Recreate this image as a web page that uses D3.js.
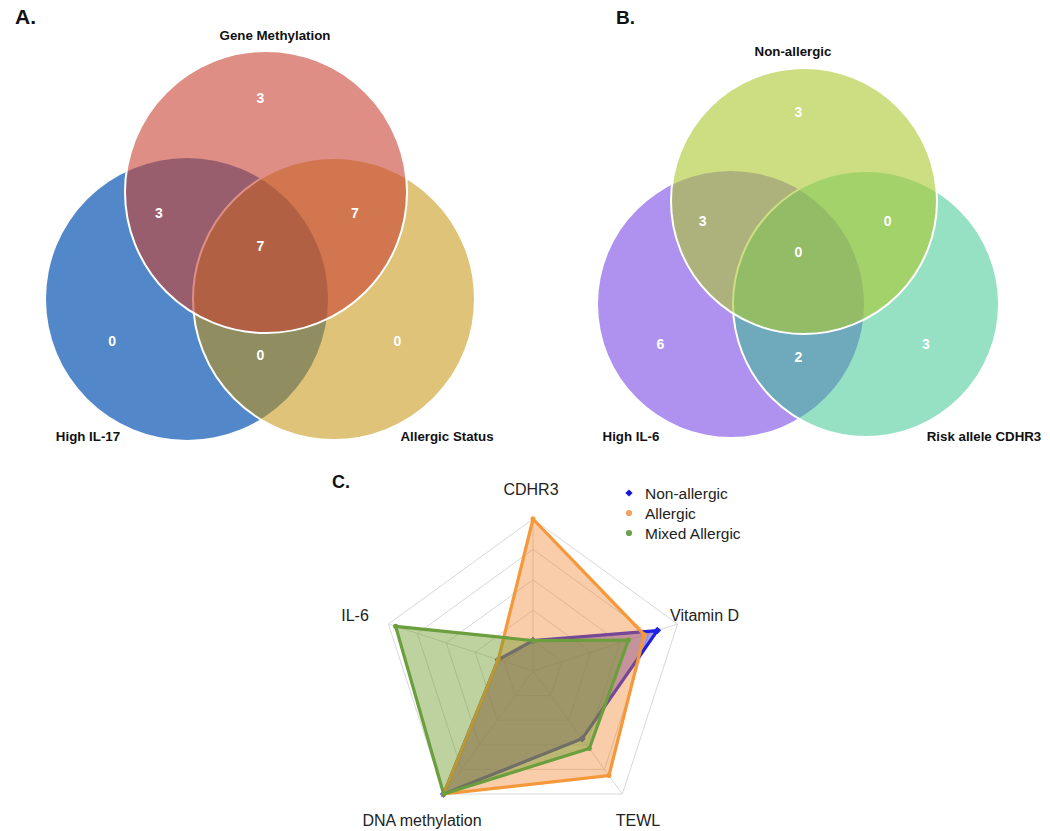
<!DOCTYPE html>
<html>
<head>
<meta charset="utf-8">
<script src="https://cdn.jsdelivr.net/npm/d3@7"></script>
<style>
  html, body { margin: 0; padding: 0; background: #fff; }
  svg { display: block; font-family: Arial, "Liberation Sans", sans-serif; }
</style>
</head>
<body>
<svg id="chart" width="1050" height="831"></svg>
<script>
// ---------- DATA ----------
// Venn A: sets (top, left, right)
const vennASets = ["Gene Methylation", "High IL-17", "Allergic Status"];
// region counts: top only, top&left, all three, top&right, left only, left&right, right only
const vennACounts = [3, 3, 7, 7, 0, 0, 0];

// Venn B: sets (top, left, right)
const vennBSets = ["Non-allergic", "High IL-6", "Risk allele CDHR3"];
const vennBCounts = [3, 3, 0, 0, 6, 2, 3];

// Radar C
const radarAxes = ["CDHR3", "Vitamin D", "TEWL", "DNA methylation", "IL-6"];
const radarSeries = ["Non-allergic", "Allergic", "Mixed Allergic"];
const nonAllergic = [0.20, 0.86, 0.55, 1.00, 0.24];
const allergic = [1.00, 0.77, 0.85, 1.00, 0.24];
const mixedAllergic = [0.20, 0.66, 0.63, 1.00, 0.95];
const radarLevels = [0.2, 0.4, 0.6, 0.8, 1.0];

// ---------- DRAW ----------
const svg = d3.select("#chart");

function drawVenn(cfg) {
  const g = svg.append("g");
  const r = cfg.r;
  // draw order: left (opaque), right (alpha), top (alpha)
  const circles = [
    { c: cfg.left, fill: cfg.colors[1], op: 1, stroke: "none" },
    { c: cfg.right, fill: cfg.colors[2], op: cfg.alphaRight, stroke: "#fff" },
    { c: cfg.top, fill: cfg.colors[0], op: cfg.alphaTop, stroke: "#fff" }
  ];
  g.selectAll("circle.fillc").data(circles).join("circle")
    .attr("class", "fillc")
    .attr("cx", d => d.c[0]).attr("cy", d => d.c[1]).attr("r", r)
    .attr("fill", d => d.fill).attr("fill-opacity", d => d.op)
    .attr("stroke", d => d.stroke).attr("stroke-width", 2);

  // region labels (counts)
  const T = cfg.top, L = cfg.left, R = cfg.right;
  const cx = (L[0] + R[0]) / 2;
  const regionPos = [
    [cx, T[1] - r * 0.67],                 // top only
    [cx - r * 0.72, T[1] + r * 0.15],      // top & left
    [cx, T[1] + r * 0.38],                 // all
    [cx + r * 0.67, T[1] + r * 0.15],      // top & right
    [L[0] - r * 0.53, L[1] + r * 0.30],    // left only
    [cx, L[1] + r * 0.40],                 // left & right
    [R[0] + r * 0.45, R[1] + r * 0.30]     // right only
  ];
  g.selectAll("text.cnt").data(cfg.counts).join("text")
    .attr("class", "cnt")
    .attr("x", (d, i) => regionPos[i][0])
    .attr("y", (d, i) => regionPos[i][1])
    .attr("text-anchor", "middle").attr("dominant-baseline", "central")
    .attr("fill", "#fff").attr("font-weight", "bold").attr("font-size", 14)
    .text(d => d);

  // set labels
  g.selectAll("text.setl").data(cfg.sets).join("text")
    .attr("class", "setl")
    .attr("x", (d, i) => cfg.labelPos[i][0])
    .attr("y", (d, i) => cfg.labelPos[i][1])
    .attr("text-anchor", "middle")
    .attr("fill", "#111").attr("font-weight", "bold").attr("font-size", 13.3)
    .text(d => d);
}

drawVenn({
  sets: vennASets, counts: vennACounts, r: 141,
  top: [266, 192], left: [187, 299], right: [334, 299],
  colors: ["rgb(200,67,50)", "rgb(82,136,201)", "rgb(195,145,9)"],
  alphaTop: 0.6, alphaRight: 0.55,
  labelPos: [[275, 40], [88, 441], [447, 441]]
});

drawVenn({
  sets: vennBSets, counts: vennBCounts, r: 133,
  top: [804, 201], left: [731, 304], right: [866, 304],
  colors: ["rgb(172,200,47)", "rgb(175,145,240)", "rgb(45,195,135)"],
  alphaTop: 0.6, alphaRight: 0.5,
  labelPos: [[793, 56], [631, 441], [984, 441]]
});

// panel letters
svg.append("text").attr("x", 15).attr("y", 24).attr("font-weight", "bold")
  .attr("font-size", 21).attr("fill", "#111").text("A.");
svg.append("text").attr("x", 616).attr("y", 24).attr("font-weight", "bold")
  .attr("font-size", 19).attr("fill", "#111").text("B.");
svg.append("text").attr("x", 332).attr("y", 488).attr("font-weight", "bold")
  .attr("font-size", 18).attr("fill", "#111").text("C.");

// ---------- RADAR ----------
const rc = { x: 533, y: 671 };
const RR = 152;
const rScale = d3.scaleLinear().domain([0, 1]).range([0, RR]);
const angle = d3.scalePoint().domain(radarAxes.concat(["_end"])).range([0, 2 * Math.PI]);
const rg = svg.append("g").attr("transform", `translate(${rc.x},${rc.y})`);

function pt(axis, v) {
  const a = angle(axis);
  return [Math.sin(a) * rScale(v), -Math.cos(a) * rScale(v)];
}

// grid
const gridLine = d3.lineRadial().angle(d => angle(d.axis)).radius(d => rScale(d.v)).curve(d3.curveLinearClosed);
rg.selectAll("path.grid").data(radarLevels).join("path")
  .attr("class", "grid")
  .attr("d", lv => gridLine(radarAxes.map(a => ({ axis: a, v: lv }))))
  .attr("fill", "none").attr("stroke", "#d4d4d4").attr("stroke-width", 0.9);
rg.selectAll("line.spoke").data(radarAxes).join("line")
  .attr("class", "spoke")
  .attr("x1", 0).attr("y1", 0)
  .attr("x2", a => pt(a, 1)[0]).attr("y2", a => pt(a, 1)[1])
  .attr("stroke", "#d4d4d4").attr("stroke-width", 0.9);

// series
const seriesData = [nonAllergic, allergic, mixedAllergic];
const fillCol = ["rgb(60,40,200)", "rgb(242,130,42)", "rgb(111,155,44)"];
const fillOp = [0.45, 0.4, 0.45];
const lineCol = ["#2020e0", "#f5983a", "#6b9e3c"];
const valLine = d3.lineRadial().angle(d => angle(d.axis)).radius(d => rScale(d.v)).curve(d3.curveLinearClosed);

seriesData.forEach((vals, si) => {
  const pts = radarAxes.map((a, i) => ({ axis: a, v: vals[i] }));
  const sg = rg.append("g");
  sg.append("path").attr("d", valLine(pts))
    .attr("fill", fillCol[si]).attr("fill-opacity", fillOp[si])
    .attr("stroke", lineCol[si]).attr("stroke-width", 3.2).attr("stroke-linejoin", "miter");
  sg.selectAll("path.mk").data(pts).join("path")
    .attr("class", "mk")
    .attr("transform", d => `translate(${pt(d.axis, d.v)[0]},${pt(d.axis, d.v)[1]})` + (si === 0 ? " rotate(45)" : ""))
    .attr("d", d3.symbol().type(si === 0 ? d3.symbolSquare : d3.symbolCircle).size(si === 0 ? 28 : 20))
    .attr("fill", lineCol[si]);
});

// axis labels
const axisLabelPos = {
  "CDHR3": [531, 495, "middle"],
  "Vitamin D": [670, 621, "start"],
  "TEWL": [638, 826, "middle"],
  "DNA methylation": [422, 826, "middle"],
  "IL-6": [355, 621, "middle"]
};
svg.selectAll("text.axl").data(radarAxes).join("text")
  .attr("class", "axl")
  .attr("x", a => axisLabelPos[a][0]).attr("y", a => axisLabelPos[a][1])
  .attr("text-anchor", a => axisLabelPos[a][2])
  .attr("font-size", 16).attr("fill", "#222")
  .text(a => a);

// legend
const lg = svg.append("g").attr("transform", "translate(629,493)");
const legItems = lg.selectAll("g").data(radarSeries).join("g")
  .attr("transform", (d, i) => `translate(0,${i * 20})`);
legItems.append("path")
  .attr("transform", (d, i) => i === 0 ? "rotate(45)" : null)
  .attr("d", (d, i) => d3.symbol().type(i === 0 ? d3.symbolSquare : d3.symbolCircle).size(i === 0 ? 26 : 30)())
  .attr("fill", (d, i) => ["#1414e0", "#f5a060", "#6fa050"][i]);
legItems.append("text").attr("x", 16).attr("y", 0).attr("dominant-baseline", "central")
  .attr("font-size", 15.5).attr("fill", "#222").text(d => d);
</script>
</body>
</html>
